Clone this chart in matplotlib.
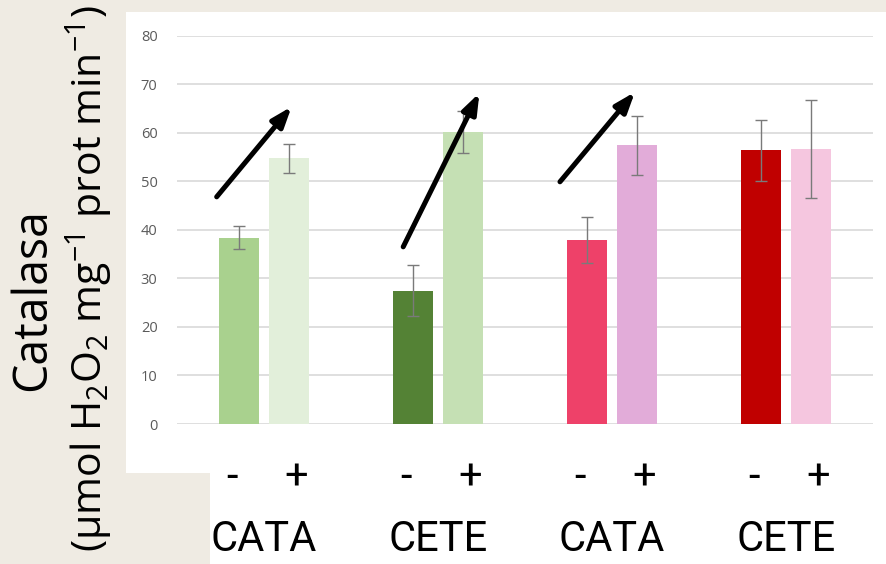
import matplotlib
matplotlib.use("Agg")
import matplotlib.pyplot as plt
import matplotlib.transforms as mtransforms
from matplotlib.patches import Rectangle
import numpy as np

# ---- data -------------------------------------------------------------
groups = ["CATA", "CETE", "CATA", "CETE"]
treatments = ["-", "+"]
mean_minus = [38.4, 27.5, 37.9, 56.4]
mean_plus = [54.7, 60.2, 57.4, 56.6]
err_minus = [2.4, 5.2, 4.8, 6.3]
err_plus = [3.0, 4.3, 6.0, 10.1]
colors_minus = ["#a9d18e", "#548235", "#ee4169", "#c00000"]
colors_plus = ["#e2efda", "#c5e0b4", "#e2acd9", "#f5c6df"]
y_ticks = [0, 10, 20, 30, 40, 50, 60, 70, 80]
# trend arrows (start, end) in data units
arrows = [
    ((-0.272, 46.8), (0.159, 65.4)),
    ((0.800, 36.5), (1.238, 68.2)),
    ((1.701, 49.9), (2.132, 68.4)),
]

plt.rcParams["mathtext.fontset"] = "custom"
plt.rcParams["mathtext.rm"] = "Open Sans"
plt.rcParams["mathtext.it"] = "Open Sans:italic"
plt.rcParams["mathtext.default"] = "regular"

W, H = 887, 564
fig = plt.figure(figsize=(W / 100, H / 100), dpi=100, facecolor="#efebe3")

# white panels behind the chart and the category labels
fig.patches.append(Rectangle((126 / W, 1 - 473 / H), (W - 126) / W, 461 / H,
                             transform=fig.transFigure, facecolor="white",
                             edgecolor="none", zorder=-5))
fig.patches.append(Rectangle((210 / W, 0), (W - 210) / W, 91 / H,
                             transform=fig.transFigure, facecolor="white",
                             edgecolor="none", zorder=-5))

ax = fig.add_axes([177 / W, 1 - 424 / H, 696 / W, (424 - 35.7) / H])
ax.set_facecolor("none")

x = np.arange(len(groups))
offset = 0.1437
width = 0.23
err_kw = dict(ecolor="#7a7a7a", elinewidth=1.0, capsize=4, capthick=1.0)
ax.bar(x - offset, mean_minus, width, color=colors_minus, yerr=err_minus,
       error_kw=err_kw, zorder=2)
ax.bar(x + offset, mean_plus, width, color=colors_plus, yerr=err_plus,
       error_kw=err_kw, zorder=2)

ax.set_xlim(-0.5, 3.5)
ax.set_ylim(0, 80)
ax.set_yticks(y_ticks)
ax.set_xticks([])
ax.grid(axis="y", color="#d9d9d9", linewidth=1.2, zorder=0)
ax.set_axisbelow(True)
for s in ax.spines.values():
    s.set_visible(False)
ax.tick_params(axis="y", length=0, pad=14, labelsize=10.5, labelcolor="#5a5a5a")
for lab in ax.get_yticklabels():
    lab.set_family("Open Sans")

for (x0, y0), (x1, y1) in arrows:
    ax.annotate("", xy=(x1, y1), xytext=(x0, y0),
                arrowprops=dict(arrowstyle="-|>,head_length=0.6,head_width=0.22",
                                mutation_scale=20, lw=3.6, color="black",
                                shrinkA=0, shrinkB=0),
                zorder=5, annotation_clip=False)

# y-axis title in two lines
fig.text(45 / W, 1 - 300 / H, "Catalasa", rotation=90, rotation_mode="anchor",
         ha="center", va="baseline", fontsize=33.5, family="Open Sans", color="black")
fig.text(102 / W, 1 - 279 / H,
         r"(µmol H$_2$O$_2$ mg$^{-1}$ prot min$^{-1}$)", rotation=90,
         rotation_mode="anchor", ha="center", va="baseline", fontsize=29.5,
         family="Open Sans", color="black")

# treatment and group labels under the bars
trans = mtransforms.blended_transform_factory(ax.transData, fig.transFigure)
lab_font = ["Roboto", "DejaVu Sans"]
for i, g in enumerate(groups):
    for sign, dx in zip(treatments, (-0.185, 0.185)):
        fig.text(i + dx, 1 - 489 / H, sign, transform=trans, ha="center",
                 va="baseline", fontsize=30, family=lab_font, color="black")
    fig.text(i, 1 - 551 / H, g, transform=trans, ha="center", va="baseline",
             fontsize=30, family=lab_font, color="black")

fig.savefig("out.png", dpi=100, facecolor=fig.get_facecolor())
